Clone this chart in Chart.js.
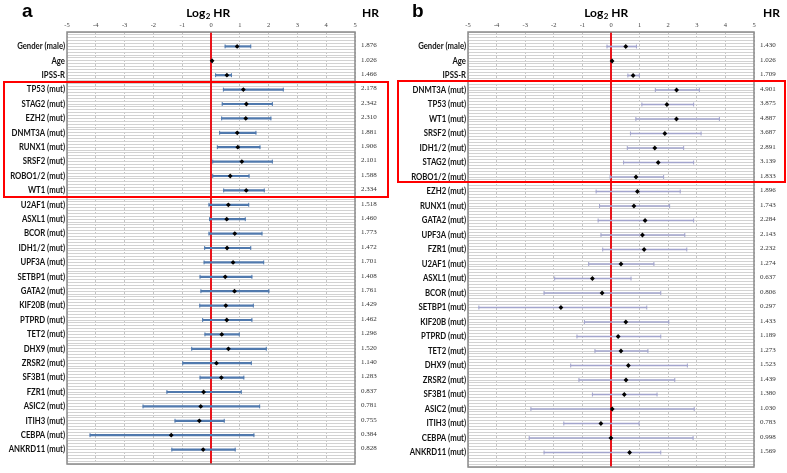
<!DOCTYPE html>
<html>
<head>
<meta charset="utf-8">
<script src="https://cdn.jsdelivr.net/npm/chart.js@4.4.1/dist/chart.umd.min.js"></script>
<style>
  body { margin: 0; background: #fff; }
  #wrap { position: relative; width: 787px; height: 473px; background: #fff; }
  canvas { position: absolute; top: 0; }
  #chartA { left: 0; }
  #chartB { left: 393px; }
  .box { position: absolute; border: 2.5px solid #ff0000; box-sizing: border-box; }
</style>
</head>
<body>
<div id="wrap">
  <canvas id="chartA" width="393" height="473"></canvas>
  <canvas id="chartB" width="394" height="473"></canvas>
  <div class="box" style="left:3px;top:81px;width:386px;height:117px"></div>
  <div class="box" style="left:397px;top:80px;width:389px;height:103px"></div>
</div>
<script>
// top axis ticks (log2 HR)
const xTickLabels = ['-5', '-4', '-3', '-2', '-1', '0', '1', '2', '3', '4', '5'];

// panel a
const rowsA = ['Gender (male)', 'Age', 'IPSS-R', 'TP53 (mut)', 'STAG2 (mut)', 'EZH2 (mut)', 'DNMT3A (mut)',
  'RUNX1 (mut)', 'SRSF2 (mut)', 'ROBO1/2 (mut)', 'WT1 (mut)', 'U2AF1 (mut)', 'ASXL1 (mut)', 'BCOR (mut)',
  'IDH1/2 (mut)', 'UPF3A (mut)', 'SETBP1 (mut)', 'GATA2 (mut)', 'KIF20B (mut)', 'PTPRD (mut)', 'TET2 (mut)',
  'DHX9 (mut)', 'ZRSR2 (mut)', 'SF3B1 (mut)', 'FZR1 (mut)', 'ASIC2 (mut)', 'ITIH3 (mut)', 'CEBPA (mut)',
  'ANKRD11 (mut)'];
const hrA = [1.876, 1.026, 1.466, 2.178, 2.342, 2.310, 1.881, 1.906, 2.101, 1.588, 2.334, 1.518, 1.460, 1.773,
  1.472, 1.701, 1.408, 1.761, 1.429, 1.462, 1.296, 1.520, 1.140, 1.283, 0.837, 0.781, 0.755, 0.384, 0.828];
const loA = [0.49, 0.02, 0.16, 0.43, 0.39, 0.37, 0.30, 0.22, 0.06, 0.06, 0.44, -0.07, -0.05, -0.07,
  -0.22, -0.24, -0.38, -0.35, -0.39, -0.29, -0.21, -0.67, -0.98, -0.38, -1.53, -2.36, -1.25, -4.20, -1.36];
const hiA = [1.38, 0.05, 0.71, 2.51, 2.13, 2.08, 1.56, 1.70, 2.13, 1.32, 1.85, 1.31, 1.19, 1.77,
  1.38, 1.83, 1.42, 2.01, 1.47, 1.42, 0.98, 1.92, 1.40, 1.14, 1.05, 1.69, 0.46, 1.49, 0.84];

// panel b
const rowsB = ['Gender (male)', 'Age', 'IPSS-R', 'DNMT3A (mut)', 'TP53 (mut)', 'WT1 (mut)', 'SRSF2 (mut)',
  'IDH1/2 (mut)', 'STAG2 (mut)', 'ROBO1/2 (mut)', 'EZH2 (mut)', 'RUNX1 (mut)', 'GATA2 (mut)', 'UPF3A (mut)',
  'FZR1 (mut)', 'U2AF1 (mut)', 'ASXL1 (mut)', 'BCOR (mut)', 'SETBP1 (mut)', 'KIF20B (mut)', 'PTPRD (mut)',
  'TET2 (mut)', 'DHX9 (mut)', 'ZRSR2 (mut)', 'SF3B1 (mut)', 'ASIC2 (mut)', 'ITIH3 (mut)', 'CEBPA (mut)',
  'ANKRD11 (mut)'];
const hrB = [1.430, 1.026, 1.709, 4.901, 3.875, 4.887, 3.687, 2.891, 3.139, 1.833, 1.896, 1.743, 2.284, 2.143,
  2.232, 1.274, 0.637, 0.806, 0.297, 1.433, 1.189, 1.273, 1.523, 1.439, 1.380, 1.030, 0.783, 0.998, 1.569];
const loB = [-0.14, 0.02, 0.59, 1.55, 1.08, 0.87, 0.68, 0.57, 0.44, -0.03, -0.52, -0.40, -0.45, -0.35,
  -0.29, -0.78, -1.97, -2.34, -4.62, -0.93, -1.19, -0.56, -1.41, -1.12, -0.65, -2.80, -1.65, -2.86, -2.34];
const hiB = [0.89, 0.05, 0.99, 3.09, 2.89, 3.79, 3.15, 2.54, 2.89, 1.84, 2.42, 2.05, 2.89, 2.58,
  2.65, 1.50, 0.70, 1.74, 1.25, 2.02, 1.74, 1.29, 2.67, 2.23, 1.61, 2.91, 0.98, 2.87, 1.74];

const LABEL_FONT = 'bold 8.6px Lato';
const LABEL_SQUEEZE = 0.9; // Lato runs wider than the original's Calibri
const HR_FONT = '7px "Liberation Serif"';

function panelPlugin(rows, hrs, o) {
  return {
    id: 'panelText',
    beforeDatasetsDraw(chart) {
      const { ctx, chartArea: a, scales } = chart;
      const x0 = scales.x.getPixelForValue(0);
      ctx.save();
      ctx.strokeStyle = '#e8141b';
      ctx.lineWidth = 2;
      ctx.beginPath();
      ctx.moveTo(x0, a.top);
      ctx.lineTo(x0, a.bottom);
      ctx.stroke();
      ctx.restore();
    },
    afterDraw(chart) {
      const { ctx, chartArea: a, scales } = chart;
      ctx.save();
      // plot frame
      ctx.strokeStyle = '#8a8a8a';
      ctx.lineWidth = 1.5;
      ctx.strokeRect(a.left, a.top, a.right - a.left, a.bottom - a.top);

      // top tick labels
      ctx.fillStyle = '#444';
      ctx.font = '6.5px "Liberation Serif"';
      ctx.textAlign = 'center';
      ctx.textBaseline = 'middle';
      xTickLabels.forEach(t => ctx.fillText(t, scales.x.getPixelForValue(Number(t)), 25));

      // row labels + HR column
      rows.forEach((r, i) => {
        const y = scales.y.getPixelForValue(i);
        ctx.fillStyle = '#111';
        ctx.font = LABEL_FONT;
        ctx.textAlign = 'right';
        ctx.save();
        ctx.translate(a.left - 2, y);
        ctx.scale(LABEL_SQUEEZE, 1);
        ctx.fillText(r, 0, 0);
        ctx.restore();
        ctx.fillStyle = '#333';
        ctx.font = HR_FONT;
        ctx.textAlign = 'left';
        ctx.fillText(hrs[i].toFixed(3), a.right + o.hrGap, y - 1);
      });

      // headers
      ctx.fillStyle = '#000';
      ctx.textAlign = 'left';
      ctx.textBaseline = 'alphabetic';
      ctx.font = 'bold 19px "Liberation Sans"';
      ctx.fillText(o.letter, o.letterX, 17);
      ctx.font = 'bold 12px Lato';
      const wLog = ctx.measureText('Log').width;
      ctx.font = 'bold 8px Lato';
      const wSub = ctx.measureText('2').width;
      ctx.font = 'bold 12px Lato';
      const wHr = ctx.measureText(' HR').width;
      let tx = o.titleX - (wLog + wSub + wHr) / 2;
      ctx.fillText('Log', tx, 17);
      ctx.font = 'bold 8px Lato';
      ctx.fillText('2', tx + wLog + 0.5, 19);
      ctx.font = 'bold 12px Lato';
      ctx.fillText(' HR', tx + wLog + wSub + 0.5, 17);
      ctx.fillText('HR', o.hrX, 17);
      ctx.restore();
    }
  };
}

function buildPanel(id, rows, hrs, lo, hi, o) {
  const pts = hrs.map((h, i) => ({ x: Math.log2(h), y: i }));
  const caps = [];
  rows.forEach((r, i) => { caps.push({ x: lo[i], y: i }); caps.push({ x: hi[i], y: i }); });
  new Chart(document.getElementById(id), {
    type: 'scatter',
    data: {
      datasets: [
        {
          type: 'scatter', order: 0, data: pts,
          pointStyle: 'rectRot', radius: 2.4, backgroundColor: '#000', borderColor: '#000', borderWidth: 0
        },
        {
          type: 'scatter', order: 1, data: caps,
          pointStyle: 'line', rotation: 90, radius: 2, borderColor: o.barColor, borderWidth: 1
        },
        {
          type: 'bar', order: 2, indexAxis: 'y',
          data: rows.map((r, i) => ({ x: [lo[i], hi[i]], y: i })),
          backgroundColor: o.barColor, borderWidth: 0, barThickness: o.barWidth
        }
      ]
    },
    options: {
      responsive: false,
      animation: false,
      events: [],
      layout: { padding: o.padding },
      plugins: { legend: { display: false }, tooltip: { enabled: false } },
      scales: {
        x: {
          type: 'linear', min: -5, max: 5, offset: false,
          ticks: { display: false, stepSize: 1 },
          grid: { color: '#c4c4c4', lineWidth: 1, drawTicks: false, borderDash: [2, 2] },
          border: { display: false, dash: [2, 2] }
        },
        y: {
          type: 'linear', min: -1, max: 29, reverse: true, offset: false,
          ticks: { display: false, stepSize: 0.2 },
          grid: { color: '#d2d2d2', lineWidth: 1, drawTicks: false, offset: false },
          border: { display: false }
        }
      }
    },
    plugins: [panelPlugin(rows, hrs, o)]
  });
}

document.addEventListener('DOMContentLoaded', () => {
  buildPanel('chartA', rowsA, hrA, loA, hiA, {
    barColor: '#5079ad', barWidth: 1.5, letter: 'a', letterX: 22, titleX: 208, hrX: 362, hrGap: 6,
    padding: { left: 67, right: 38, top: 32, bottom: 9 }
  });
  buildPanel('chartB', rowsB, hrB, loB, hiB, {
    barColor: '#a2a4cc', barWidth: 1, letter: 'b', letterX: 19, titleX: 213, hrX: 370, hrGap: 6,
    padding: { left: 75, right: 33, top: 32, bottom: 6 }
  });
});
</script>
</body>
</html>
